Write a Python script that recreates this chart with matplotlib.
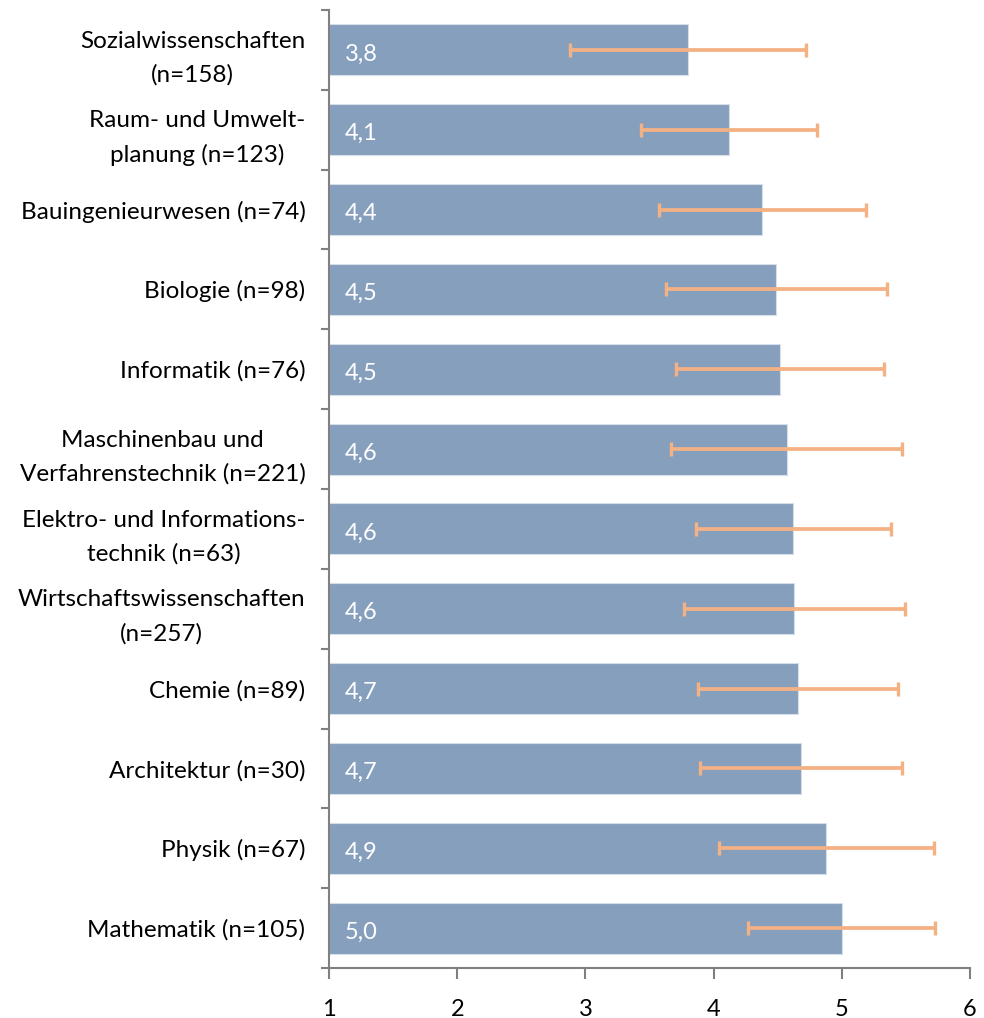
import matplotlib.pyplot as plt
import numpy as np

# Daten (von oben nach unten)
faecher = [
    "Sozialwissenschaften\n(n=158)",
    "Raum- und Umwelt-\nplanung (n=123)",
    "Bauingenieurwesen (n=74)",
    "Biologie (n=98)",
    "Informatik (n=76)",
    "Maschinenbau und\nVerfahrenstechnik (n=221)",
    "Elektro- und Informations-\ntechnik (n=63)",
    "Wirtschaftswissenschaften\n(n=257)",
    "Chemie (n=89)",
    "Architektur (n=30)",
    "Physik (n=67)",
    "Mathematik (n=105)",
]
mittelwerte = [3.80, 4.12, 4.38, 4.49, 4.52, 4.57, 4.62, 4.63, 4.66, 4.68, 4.88, 5.00]
streuung = [0.92, 0.69, 0.81, 0.86, 0.81, 0.90, 0.76, 0.86, 0.78, 0.79, 0.84, 0.73]
wert_labels = ["3,8", "4,1", "4,4", "4,5", "4,5", "4,6", "4,6", "4,6", "4,7", "4,7", "4,9", "5,0"]
x_ticks = [1, 2, 3, 4, 5, 6]

plt.rcParams['font.family'] = ['Lato', 'DejaVu Sans']

balken_farbe = '#869fbd'
fehler_farbe = '#f4b183'
achsen_farbe = '#808080'

fig = plt.figure(figsize=(9.84, 10.18), dpi=100)
ax = fig.add_axes([0.3344, 0.0491, 0.6514, 0.9411])

y = np.arange(len(faecher))
basis = 1
breiten = [m - basis for m in mittelwerte]
ax.barh(y, breiten, left=basis, height=0.64, color=balken_farbe,
        edgecolor='#d6dfe9', linewidth=0.8, zorder=2)
ax.errorbar(mittelwerte, y, xerr=streuung, fmt='none', ecolor=fehler_farbe,
            elinewidth=2.7, capsize=5, capthick=2.4, zorder=3)

for yi, txt in zip(y, wert_labels):
    ax.text(1.12, yi + 0.05, txt, color='white', fontsize=17, va='center', ha='left', zorder=4)

ax.set_xlim(1, 6)
ax.set_ylim(len(faecher) - 0.5, -0.5)
ax.set_xticks(x_ticks)
ax.set_xticklabels([str(t) for t in x_ticks], fontsize=17)

# Teilstriche an den Kategoriegrenzen, Beschriftung in der Mitte
ax.set_yticks(np.arange(len(faecher) + 1) - 0.5)
ax.set_yticklabels([])
ax.set_yticks(y, minor=True)
ax.set_yticklabels(faecher, minor=True, fontsize=17.5, ha='right', multialignment='center',
                   linespacing=1.7)
ax.tick_params(axis='y', which='minor', length=0, pad=17)
ax.tick_params(axis='y', which='major', length=6, width=1.5, color=achsen_farbe)
ax.tick_params(axis='x', length=8, width=1.5, color=achsen_farbe, pad=14)

for s in ['top', 'right']:
    ax.spines[s].set_visible(False)
for s in ['left', 'bottom']:
    ax.spines[s].set_color(achsen_farbe)
    ax.spines[s].set_linewidth(1.5)

fig.savefig('out.png', dpi=100)
